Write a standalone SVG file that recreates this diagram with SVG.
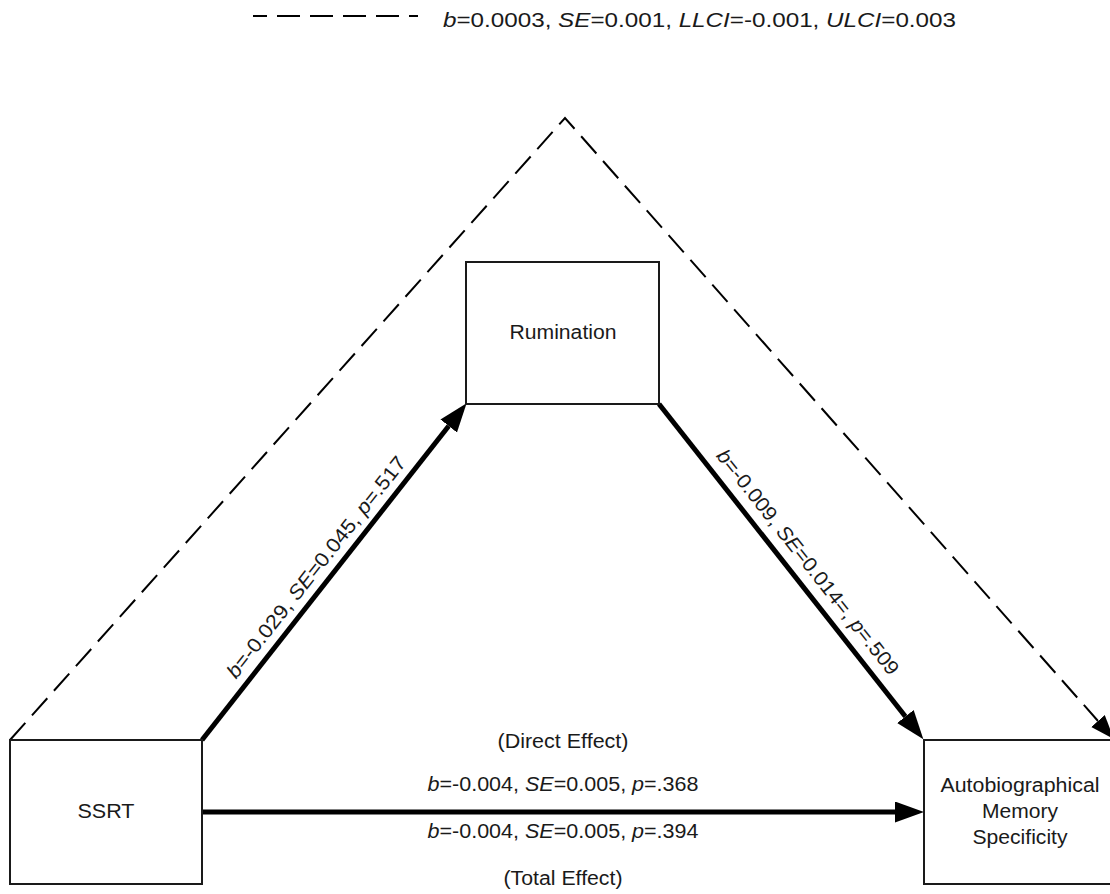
<svg xmlns="http://www.w3.org/2000/svg" width="1110" height="894" viewBox="0 0 1110 894">
<style>
  .box { fill: #ffffff; stroke: #1a1a1a; stroke-width: 2; }
  .lbl { font-family: "Liberation Sans", Arial, sans-serif; font-size: 20px; fill: #1a1a1a; }
  .mid { text-anchor: middle; }
  .it { font-style: italic; }
  .solid { fill: none; stroke: #000; stroke-width: 5; }
  .dash { fill: none; stroke: #000; stroke-width: 2; stroke-dasharray: 23 10; }
</style>
<defs>
  <marker id="headSolid" markerUnits="userSpaceOnUse" markerWidth="30" markerHeight="22" viewBox="0 0 30 22" refX="0" refY="10.5" orient="auto">
    <path d="M0,0 L29,10.5 L0,21 z" fill="#000"/>
  </marker>
  <marker id="headDash" markerUnits="userSpaceOnUse" markerWidth="26" markerHeight="20" viewBox="0 0 26 20" refX="0" refY="9" orient="auto">
    <path d="M0,0 L24,9 L0,18 z" fill="#000"/>
  </marker>
</defs>
<rect width="1110" height="894" fill="#ffffff"/>

<g id="legend">
  <line x1="253" y1="16" x2="418" y2="16" stroke="#000" stroke-width="2" stroke-dasharray="14 10 23 10 23 10 23 10 23 10 10 0"/>
  <text class="lbl" x="443" y="27" textLength="513" lengthAdjust="spacingAndGlyphs"><tspan class="it">b</tspan>=0.0003, <tspan class="it">SE</tspan>=0.001, <tspan class="it">LLCI</tspan>=-0.001, <tspan class="it">ULCI</tspan>=0.003</text>
</g>

<g id="connectors">
  <path id="indirect" class="dash" d="M10,740 L565,118 L1098,721" marker-end="url(#headDash)"/>
  <line id="a-path" class="solid" x1="202" y1="740" x2="448.7" y2="426" marker-end="url(#headSolid)"/>
  <line id="b-path" class="solid" x1="659" y1="404" x2="905.4" y2="716.5" marker-end="url(#headSolid)"/>
  <line id="c-path" class="solid" x1="202" y1="812" x2="895" y2="812" marker-end="url(#headSolid)"/>
  <text class="lbl mid" transform="translate(316,567) rotate(-51.7)" y="7" textLength="276" lengthAdjust="spacingAndGlyphs"><tspan class="it">b</tspan>=-0.029, <tspan class="it">SE</tspan>=0.045, <tspan class="it">p</tspan>=.517</text>
  <text class="lbl mid" transform="translate(808,562) rotate(51.7)" y="7" textLength="281" lengthAdjust="spacingAndGlyphs"><tspan class="it">b</tspan>=-0.009, <tspan class="it">SE</tspan>=0.014=, <tspan class="it">p</tspan>=.509</text>
  <text class="lbl mid" x="563" y="748" textLength="131" lengthAdjust="spacingAndGlyphs">(Direct Effect)</text>
  <text class="lbl mid" x="563" y="791" textLength="271" lengthAdjust="spacingAndGlyphs"><tspan class="it">b</tspan>=-0.004, <tspan class="it">SE</tspan>=0.005, <tspan class="it">p</tspan>=.368</text>
  <text class="lbl mid" x="563" y="838" textLength="271" lengthAdjust="spacingAndGlyphs"><tspan class="it">b</tspan>=-0.004, <tspan class="it">SE</tspan>=0.005, <tspan class="it">p</tspan>=.394</text>
  <text class="lbl mid" x="563" y="885" textLength="119" lengthAdjust="spacingAndGlyphs">(Total Effect)</text>
</g>

<g id="rumination">
  <rect class="box" x="466" y="262" width="193" height="142"/>
  <text class="lbl mid" x="563" y="339" textLength="107" lengthAdjust="spacingAndGlyphs">Rumination</text>
</g>

<g id="ssrt">
  <rect class="box" x="10" y="740" width="192" height="144"/>
  <text class="lbl mid" x="106" y="818" textLength="57" lengthAdjust="spacingAndGlyphs">SSRT</text>
</g>

<g id="ams">
  <rect class="box" x="924" y="740" width="192" height="144"/>
  <text class="lbl mid" x="1020" y="792" textLength="159" lengthAdjust="spacingAndGlyphs">Autobiographical</text>
  <text class="lbl mid" x="1020" y="818" textLength="76" lengthAdjust="spacingAndGlyphs">Memory</text>
  <text class="lbl mid" x="1020" y="844" textLength="95" lengthAdjust="spacingAndGlyphs">Specificity</text>
</g>
</svg>
